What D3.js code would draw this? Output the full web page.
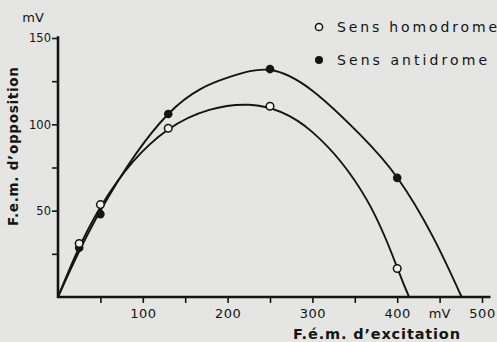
<!DOCTYPE html>
<html>
<head>
<meta charset="utf-8">
<script src="https://cdn.jsdelivr.net/npm/d3@7"></script>
<style>
  html, body { margin: 0; padding: 0; background: #e5e5e3; }
  svg { display: block; }
  text { font-family: "DejaVu Sans", sans-serif; fill: #141414; }
</style>
</head>
<body>
<svg id="chart" width="497" height="342"></svg>
<script>
// Measured points (mV)
const excitation = [25, 50, 130, 250, 400];
const homodrome  = [31, 53.5, 97.7, 110.5, 16.5];
const antidrome  = [28.5, 48, 106, 132, 69];

// Hand-drawn fitted curves through each series (knots)
const homodromeCurveX = [0, 50, 130, 225, 300, 364, 400, 414];
const homodromeCurveY = [0, 52, 97, 111.3, 95.5, 56.4, 17, 0];
const antidromeCurveX = [0, 50, 130, 200, 250, 300, 356, 400, 442, 476];
const antidromeCurveY = [0, 50, 106, 127, 131.5, 119.5, 94.2, 69.2, 35, 0];

// Axis ticks and labels
const xTicks = [50, 100, 150, 200, 250, 300, 350, 400, 450, 500];
const xLabelled = [100, 200, 300, 400, 500];
const yTicks = [25, 50, 75, 100, 125, 150];
const yLabelled = [50, 100, 150];

const legendLabels = ["Sens homodrome", "Sens antidrome"];
const xTitle = "F.é.m. d’excitation";
const yTitle = "F.e.m. d’opposition";
const unit = "mV";

const svg = d3.select("#chart");
const ink = "#141414";

const x = d3.scaleLinear().domain([0, 500]).range([58, 482]);
const y = d3.scaleLinear().domain([0, 150]).range([297, 38]);

// X axis
const xAxis = svg.append("g")
  .attr("transform", `translate(0,${y(0)})`)
  .call(d3.axisBottom(x).tickValues(xTicks).tickSize(6).tickSizeOuter(0)
    .tickFormat(d => xLabelled.includes(d) ? d : ""));
xAxis.select(".domain").remove();
xAxis.selectAll(".tick line").attr("stroke", ink).attr("stroke-width", 1.6);
xAxis.selectAll(".tick text")
  .attr("y", 12)
  .style("font-size", "13px")
  .style("font-family", "DejaVu Sans, sans-serif")
  .style("letter-spacing", "0.5px")
  .attr("fill", ink);
svg.append("line")
  .attr("x1", x(0) - 1).attr("x2", x(510))
  .attr("y1", y(0)).attr("y2", y(0))
  .attr("stroke", ink).attr("stroke-width", 2.6);

// Y axis
const yAxis = svg.append("g")
  .attr("transform", `translate(${x(0)},0)`)
  .call(d3.axisLeft(y).tickValues(yTicks).tickSize(6).tickSizeOuter(0)
    .tickFormat(d => yLabelled.includes(d) ? d : ""));
yAxis.select(".domain").remove();
yAxis.selectAll(".tick line").attr("stroke", ink).attr("stroke-width", 1.6);
yAxis.selectAll(".tick text")
  .attr("x", -7)
  .style("font-size", "11.5px")
  .style("font-family", "DejaVu Sans, sans-serif")
  .attr("fill", ink);
svg.append("line")
  .attr("x1", x(0)).attr("x2", x(0))
  .attr("y1", y(151)).attr("y2", y(0) + 1)
  .attr("stroke", ink).attr("stroke-width", 2.6);

// Units
svg.append("text").attr("x", x(450)).attr("y", y(0) + 21)
  .attr("text-anchor", "middle").style("font-size", "13px").text(unit);
svg.append("text").attr("x", 33).attr("y", 22)
  .attr("text-anchor", "middle").style("font-size", "13px").text(unit);

// Axis titles
svg.append("text")
  .attr("x", 293).attr("y", 339)
  .attr("textLength", 167).attr("lengthAdjust", "spacing")
  .style("font-size", "14.5px").style("font-weight", "bold").text(xTitle);
svg.append("text")
  .attr("transform", "translate(18,226) rotate(-90)")
  .attr("textLength", 159).attr("lengthAdjust", "spacing")
  .style("font-size", "13.5px").style("font-weight", "bold").text(yTitle);

// Curves
const line = d3.line().x(d => x(d[0])).y(d => y(d[1])).curve(d3.curveNatural);
const homCurve = d3.zip(homodromeCurveX, homodromeCurveY);
const antCurve = d3.zip(antidromeCurveX, antidromeCurveY);
[homCurve, antCurve].forEach(c => {
  svg.append("path").attr("d", line(c))
    .attr("fill", "none").attr("stroke", ink).attr("stroke-width", 1.9);
});

// Markers
const homPts = d3.zip(excitation, homodrome);
const antPts = d3.zip(excitation, antidrome);
svg.append("g").selectAll("circle").data(antPts).join("circle")
  .attr("cx", d => x(d[0])).attr("cy", d => y(d[1])).attr("r", 4.3)
  .attr("fill", ink);
svg.append("g").selectAll("circle").data(homPts).join("circle")
  .attr("cx", d => x(d[0])).attr("cy", d => y(d[1])).attr("r", 3.8)
  .attr("fill", "#f4f4f2").attr("stroke", ink).attr("stroke-width", 1.5);

// Legend
const legend = svg.append("g");
const legendY = [27, 60];
const legendWidths = [160, 150];
legendLabels.forEach((lab, i) => {
  if (i === 0) {
    legend.append("circle").attr("cx", 319).attr("cy", legendY[i]).attr("r", 3.6)
      .attr("fill", "#f4f4f2").attr("stroke", ink).attr("stroke-width", 1.5);
  } else {
    legend.append("circle").attr("cx", 319).attr("cy", legendY[i]).attr("r", 4)
      .attr("fill", ink);
  }
  legend.append("text").attr("x", 337).attr("y", legendY[i] + 5)
    .attr("textLength", legendWidths[i]).attr("lengthAdjust", "spacing")
    .style("font-size", "14px").text(lab);
});
</script>
</body>
</html>
